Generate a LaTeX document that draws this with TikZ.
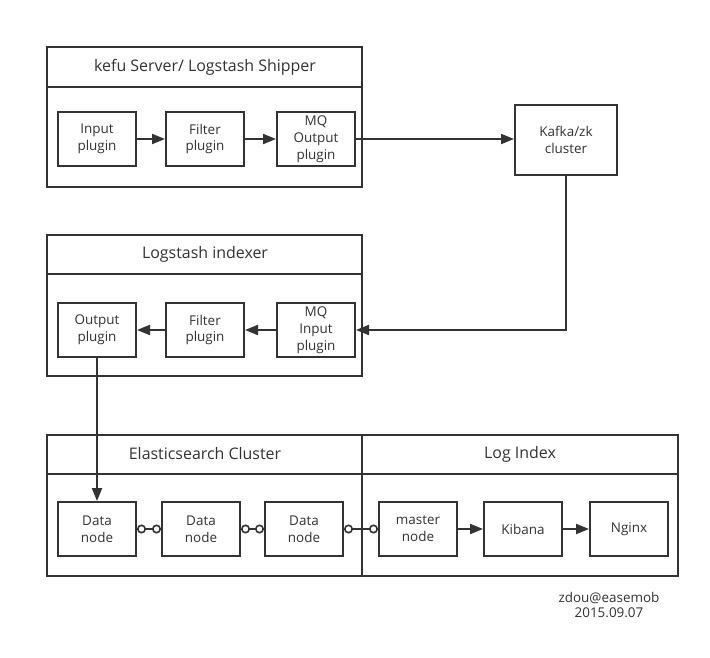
\documentclass[tikz,border=0pt]{standalone}
\usepackage{fontspec}
\setmainfont{Open Sans}
\usetikzlibrary{arrows.meta}
\definecolor{ink}{HTML}{333333}
\begin{document}
\begin{tikzpicture}[x=1bp,y=-1bp,
  every node/.style={text=ink},
  frame/.style={draw=ink,line width=2bp},
  inbox/.style={draw=ink,line width=2bp,minimum width=78bp,minimum height=54bp,
     align=center,font=\fontsize{13.5}{17}\selectfont,inner sep=0pt},
  ttl/.style={font=\fontsize{16}{19}\selectfont},
  arr/.style={draw=ink,line width=2bp,-{Triangle[length=13bp,width=10bp]}},
  link/.style={draw=ink,line width=1.6bp,{Circle[open,length=9bp,width=9bp]}-{Circle[open,length=9bp,width=9bp]}}
]
\useasboundingbox (0,0) rectangle (710,658);
\fill[white] (0,0) rectangle (710,658);

% container 1
\draw[frame] (47,47) rectangle (362,187);
\draw[frame] (47,87) -- (362,87);
\node[ttl] (t1) at (205,67) {kefu Server/ Logstash Shipper};
\node[inbox] (inp) at (97,139) {Input\\plugin};
\node[inbox] (fil1) at (205,139) {Filter\\plugin};
\node[inbox] (mqo) at (316,139) {MQ\\Output\\plugin};
\node[draw=ink,line width=2bp,minimum width=102bp,minimum height=70bp,align=center,
  font=\fontsize{13.5}{17}\selectfont,inner sep=0pt] (kafka) at (566,140) {Kafka/zk\\cluster};

% container 2
\draw[frame] (47,235) rectangle (362,376);
\draw[frame] (47,274) -- (362,274);
\node[ttl] (t2) at (205,254) {Logstash indexer};
\node[inbox] (outp) at (97,330) {Output\\plugin};
\node[inbox] (fil2) at (205,330) {Filter\\plugin};
\node[inbox] (mqi) at (316,330) {MQ\\Input\\plugin};

% container 3
\draw[frame] (47,435) rectangle (678,576);
\draw[frame] (47,474) -- (678,474);
\draw[frame] (362,435) -- (362,576);
\node[ttl] (t3) at (205,454) {Elasticsearch Cluster};
\node[ttl] (t4) at (520,454) {Log Index};
\node[inbox] (d1) at (97,529) {Data\\node};
\node[inbox] (d2) at (201,529) {Data\\node};
\node[inbox] (d3) at (304,529) {Data\\node};
\node[inbox] (mas) at (418,529) {master\\node};
\node[inbox] (kib) at (523,529) {Kibana};
\node[inbox] (ngx) at (629,529) {Nginx};

% connectors
\draw[arr] (inp) -- (fil1);
\draw[arr] (fil1) -- (mqo);
\draw[arr] (mqo.east) -- (mqo.east -| kafka.west);
\draw[arr] (kafka.south) |- (mqi.east);
\draw[arr] (mqi) -- (fil2);
\draw[arr] (fil2) -- (outp);
\draw[arr] (outp.south) -- (d1.north);
\draw[link] (d1) -- (d2);
\draw[link] (d2) -- (d3);
\draw[link] (d3) -- (mas);
\draw[arr] (mas) -- (kib);
\draw[arr] (kib) -- (ngx);

% signature
\node[font=\fontsize{13.5}{16}\selectfont,align=center] (sig) at (609,605) {zdou@easemob\\2015.09.07};
\end{tikzpicture}
\end{document}
